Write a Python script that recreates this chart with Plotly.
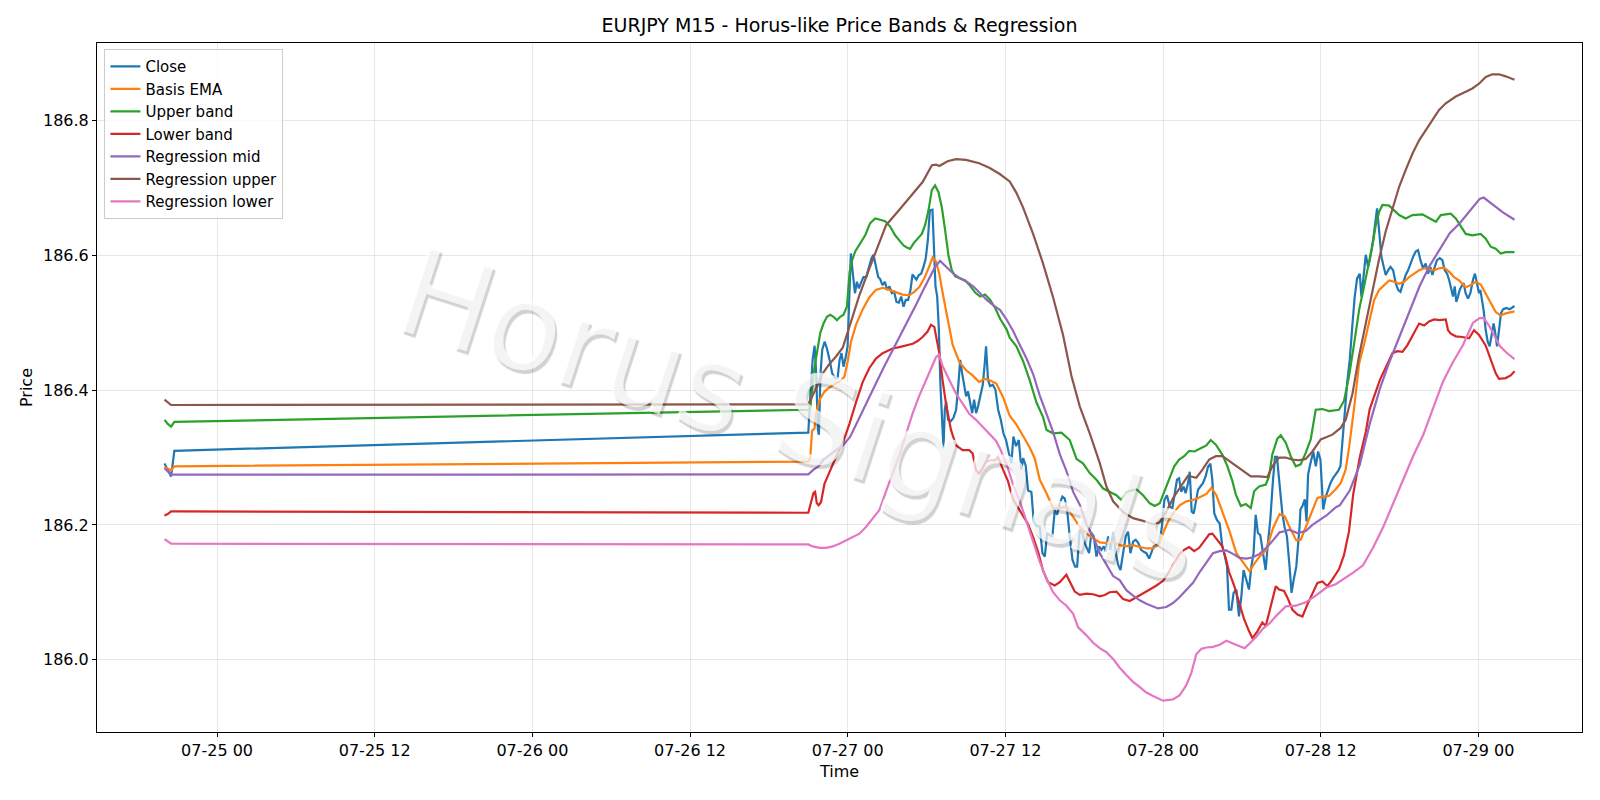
import pandas as pd
import plotly.graph_objects as go

BASE = pd.Timestamp("2026-07-25 00:00")   # x values below are hours since BASE

close_h = [-4.0, -3.75, -3.5, -3.25,
    45.00, 45.20, 45.33, 45.48, 45.60, 45.73, 45.81, 45.93, 46.06, 46.24,
    46.42, 46.62, 46.82, 47.02, 47.23, 47.38, 47.53, 47.68, 47.84, 47.99,
    48.11, 48.24, 48.39, 48.55, 48.70, 48.85, 49.00, 49.20, 49.41, 49.61,
    49.81, 49.96, 50.14, 50.32, 50.47, 50.65, 50.83, 51.00, 51.18, 51.36,
    51.54, 51.71, 51.89, 52.07, 52.25, 52.42, 52.60, 52.78, 52.93, 53.08,
    53.23, 53.41, 53.59, 53.77, 53.94, 54.10, 54.25, 54.45, 54.55, 54.68,
    54.81, 54.93, 55.06, 55.19, 55.29, 55.39, 55.49, 55.64, 55.85, 56.05,
    56.25, 56.43, 56.56, 56.71, 56.86, 57.01, 57.16, 57.32, 57.47, 57.62,
    57.77, 57.92, 58.10, 58.28, 58.43, 58.53, 58.68, 58.84, 59.04, 59.24,
    59.45, 59.65, 59.85, 60.05, 60.26, 60.46, 60.61, 60.81, 61.02,
    61.22, 61.35, 61.55, 61.73, 61.98, 62.16, 62.36,
    62.62, 62.82, 63.00, 63.18, 63.38, 63.58, 63.76, 63.94, 64.14, 64.34,
    64.52, 64.70, 64.90, 65.11, 65.31, 65.46, 65.66, 65.87, 66.04, 66.22,
    66.37, 66.55, 66.73, 66.93, 67.13, 67.31, 67.49, 67.64, 67.82, 67.99,
    68.20, 68.40, 68.58, 68.76, 68.96, 69.16, 69.34, 69.52, 69.72, 69.92,
    70.12, 70.33, 70.53, 70.73, 70.94, 71.11, 71.29, 71.49, 71.70, 71.90,
    72.10, 72.30, 72.51, 72.71, 72.89, 73.06, 73.22, 73.39, 73.57, 73.72,
    73.90, 74.03, 74.18, 74.33, 74.48, 74.66, 74.84, 75.04, 75.24, 75.42,
    75.60, 75.75, 75.90, 76.11, 76.31, 76.51, 76.71, 76.87, 77.02, 77.20,
    77.37, 77.58, 77.78, 77.96, 78.13, 78.34, 78.54, 78.72, 78.89, 79.05,
    79.22, 79.40, 79.60, 79.81, 79.98, 80.16, 80.37, 80.52, 80.67, 80.87,
    81.08, 81.25, 81.43, 81.63, 81.78, 81.94, 82.14, 82.39,
    82.46, 82.61, 82.79, 82.92, 83.04,
    83.17, 83.43, 83.63, 83.80, 83.98, 84.19, 84.39, 84.57, 84.74, 84.95,
    85.15, 85.33, 85.50, 85.66, 85.83, 86.01, 86.21, 86.42, 86.59, 86.77,
    86.97, 87.10, 87.28, 87.43, 87.61, 87.73, 87.99, 88.19, 88.29, 88.44,
    88.62, 88.80, 88.95, 89.13, 89.31, 89.51, 89.71, 89.89, 90.07, 90.27,
    90.47, 90.65, 90.83, 91.03, 91.23, 91.41, 91.59, 91.79, 91.99, 92.17,
    92.35, 92.50, 92.68, 92.85, 93.06, 93.26, 93.44, 93.62, 93.77, 93.95,
    94.07, 94.20, 94.32, 94.45, 94.58, 94.71, 94.88, 95.03, 95.21, 95.39,
    95.59, 95.74, 95.90, 96.05, 96.15, 96.30, 96.40, 96.56, 96.71, 96.86,
    97.01, 97.16, 97.27, 97.42, 97.57, 97.72, 97.87, 98.13, 98.38, 98.63,
    98.75]
close_v = [186.291, 186.281, 186.272, 186.310,
    186.337, 186.406, 186.445, 186.466, 186.425, 186.341, 186.334, 186.425, 186.460, 186.472,
    186.462, 186.445, 186.425, 186.418, 186.418, 186.445, 186.455, 186.435, 186.448, 186.465,
    186.524, 186.603, 186.573, 186.544, 186.561, 186.551, 186.559, 186.568, 186.568, 186.581,
    186.596, 186.601, 186.583, 186.568, 186.565, 186.556, 186.561, 186.549, 186.554, 186.544,
    186.546, 186.531, 186.530, 186.539, 186.524, 186.534, 186.534, 186.549, 186.572, 186.568,
    186.564, 186.571, 186.573, 186.583, 186.596, 186.623, 186.667, 186.668, 186.603, 186.554,
    186.539, 186.494, 186.406, 186.356, 186.314, 186.371, 186.383, 186.356, 186.354, 186.359,
    186.371, 186.410, 186.445, 186.425, 186.406, 186.391, 186.398, 186.381, 186.366, 186.386,
    186.366, 186.376, 186.391, 186.408, 186.440, 186.465, 186.415, 186.406, 186.408, 186.401,
    186.371, 186.356, 186.336, 186.326, 186.307, 186.292, 186.331, 186.317, 186.326,
    186.282, 186.299, 186.288, 186.251, 186.249, 186.204, 186.199,
    186.197, 186.158, 186.153, 186.188, 186.185, 186.183, 186.222, 186.215, 186.232, 186.242,
    186.239, 186.222, 186.183, 186.148, 186.138, 186.138, 186.193, 186.188, 186.173, 186.163,
    186.158, 186.188, 186.183, 186.153, 186.168, 186.163, 186.168, 186.160, 186.183, 186.163,
    186.190, 186.158, 186.141, 186.133, 186.158, 186.183, 186.190, 186.158, 186.175, 186.178,
    186.173, 186.163, 186.160, 186.158, 186.150, 186.158, 186.168, 186.170, 186.173, 186.195,
    186.237, 186.244, 186.227, 186.225, 186.247, 186.267, 186.269, 186.249, 186.257, 186.247,
    186.262, 186.279, 186.220, 186.217, 186.232, 186.252, 186.257, 186.262, 186.272, 186.286,
    186.291, 186.267, 186.217, 186.207, 186.202, 186.168, 186.153, 186.138, 186.074, 186.074,
    186.099, 186.104, 186.064, 186.094, 186.133, 186.118, 186.104, 186.138, 186.158, 186.215,
    186.188, 186.185, 186.158, 186.133, 186.173, 186.207, 186.267, 186.301, 186.301, 186.257,
    186.217, 186.197, 186.183, 186.138, 186.099, 186.118, 186.138, 186.197,
    186.223, 186.228, 186.238, 186.205, 186.275,
    186.287, 186.309, 186.287, 186.309, 186.297, 186.223, 186.242, 186.252, 186.262, 186.270,
    186.275, 186.280, 186.287, 186.321, 186.366, 186.410, 186.445, 186.499, 186.539, 186.566,
    186.573, 186.539, 186.578, 186.601, 186.583, 186.593, 186.623, 186.657, 186.670, 186.638,
    186.598, 186.583, 186.571, 186.578, 186.583, 186.578, 186.559, 186.549, 186.546, 186.559,
    186.571, 186.578, 186.588, 186.598, 186.606, 186.608, 186.593, 186.581, 186.588, 186.573,
    186.583, 186.571, 186.583, 186.593, 186.596, 186.593, 186.578, 186.573, 186.564, 186.551,
    186.539, 186.554, 186.531, 186.539, 186.549, 186.554, 186.559, 186.544, 186.536, 186.544,
    186.564, 186.573, 186.559, 186.544, 186.549, 186.534, 186.519, 186.489, 186.472, 186.465,
    186.480, 186.499, 186.487, 186.465, 186.489, 186.514, 186.520, 186.522, 186.520, 186.524,
    186.525]

ema_h = [-4.0, -3.75, -3.5, -3.25,
    45.0, 45.15, 45.29, 45.47, 45.59, 45.85, 46.23, 46.61, 46.99, 47.37, 47.75, 48.0, 48.25,
    48.63, 49.14, 49.65, 50.15, 50.66, 51.17, 51.68, 52.18, 52.69, 53.07, 53.45, 53.83, 54.21,
    54.46, 54.72, 54.97, 55.22, 55.6, 55.98, 56.49, 57.0, 57.5, 58.01, 58.39, 58.77, 59.31,
    59.82, 60.33, 60.84, 61.35, 61.85, 62.23, 62.62, 63.13, 63.63, 64.14, 64.65, 65.16, 65.66,
    66.17, 66.68, 67.18, 67.69, 68.2, 68.7, 69.21, 69.72, 70.23, 70.73, 71.24, 71.62, 72.0,
    72.38, 72.76, 73.27, 73.77, 74.28, 74.79, 75.3, 75.68, 76.06, 76.56, 77.07, 77.58, 78.08,
    78.59, 78.97, 79.35, 79.86, 80.37, 80.87, 81.25, 81.63, 82.14, 82.48, 82.86, 83.24, 83.75,
    84.13, 84.63, 85.14, 85.52, 85.9, 86.16, 86.55, 86.93, 87.31, 87.69, 88.07, 88.45, 88.83,
    89.21, 89.59, 89.97, 90.35, 90.73, 91.11, 91.49, 91.87, 92.25, 92.63, 93.01, 93.39, 93.77,
    94.15, 94.53, 95.04, 95.42, 95.8, 96.18, 96.56, 96.94, 97.32, 97.7, 98.08, 98.75]
ema_v = [186.286, 186.283, 186.281, 186.287,
    186.294, 186.300, 186.340, 186.343, 186.365, 186.385, 186.398, 186.404, 186.408, 186.413,
    186.420, 186.443, 186.472, 186.497, 186.520, 186.538, 186.549, 186.552, 186.549, 186.545,
    186.542, 186.541, 186.546, 186.553, 186.566, 186.584, 186.597, 186.591, 186.573, 186.545,
    186.505, 186.468, 186.442, 186.430, 186.422, 186.412, 186.417, 186.415, 186.410, 186.390,
    186.362, 186.349, 186.332, 186.315, 186.299, 186.267, 186.247, 186.225, 186.225, 186.227,
    186.212, 186.197, 186.187, 186.180, 186.174, 186.173, 186.175, 186.170, 186.168, 186.170,
    186.168, 186.165, 186.165, 186.170, 186.188, 186.205, 186.217, 186.229, 186.235, 186.237,
    186.241, 186.246, 186.255, 186.244, 186.217, 186.190, 186.158, 186.144, 186.131, 186.143,
    186.153, 186.163, 186.195, 186.216, 186.213, 186.197, 186.177, 186.178, 186.196, 186.213,
    186.240, 186.242, 186.243, 186.253, 186.262, 186.282, 186.315, 186.375, 186.440, 186.469,
    186.504, 186.534, 186.549, 186.556, 186.563, 186.561, 186.558, 186.561, 186.568, 186.573,
    186.578, 186.581, 186.579, 186.578, 186.581, 186.582, 186.576, 186.568, 186.563, 186.553,
    186.556, 186.561, 186.557, 186.544, 186.529, 186.516, 186.511, 186.514, 186.517]

upper_h = [-4.0, -3.75, -3.5, -3.25,
    45.0, 45.15, 45.40, 45.66, 45.91, 46.16, 46.42, 46.67, 46.92, 47.18, 47.43, 47.68, 47.94,
    48.14, 48.32, 48.57, 48.95, 49.33, 49.71, 50.09, 50.47, 50.85, 51.23, 51.61, 51.99, 52.25,
    52.50, 52.75, 53.01, 53.26, 53.64, 53.89, 54.15, 54.40, 54.65, 54.91, 55.16, 55.41, 55.67,
    55.92, 56.18, 56.56, 56.94, 57.32, 57.70, 58.08, 58.46, 58.84, 59.22, 59.60, 60.10, 60.33,
    60.84, 61.35, 61.85, 62.36, 62.87, 63.13, 63.63, 64.27, 64.90, 65.41, 65.92, 66.42, 66.93,
    67.44, 67.94, 68.45, 68.83, 69.21, 69.97, 70.48, 70.99, 71.37, 71.75, 72.13, 72.47, 72.85,
    73.23, 73.61, 73.99, 74.41, 74.79, 75.30, 75.63, 76.02, 76.52, 76.90, 77.28, 77.54, 77.92,
    78.30, 78.68, 78.93, 79.31, 79.82, 80.07, 80.32, 80.70, 80.96, 81.34, 81.72, 82.10, 82.48,
    82.86, 83.24, 83.62, 84.13, 84.63, 85.39, 85.77, 86.15, 86.55, 86.93, 87.31, 87.69, 87.94,
    88.19, 88.45, 88.70, 89.21, 89.59, 89.97, 90.47, 90.98, 91.74, 92.25, 92.76, 93.14, 93.52,
    93.90, 94.28, 94.66, 95.04, 95.54, 96.18, 96.56, 96.94, 97.32, 97.70, 98.08, 98.75]
upper_v = [186.356, 186.350, 186.346, 186.353,
    186.371, 186.373, 186.425, 186.455, 186.485, 186.499, 186.509, 186.512, 186.509, 186.504,
    186.509, 186.512, 186.524, 186.575, 186.592, 186.606, 186.618, 186.630, 186.648, 186.655,
    186.653, 186.651, 186.643, 186.630, 186.621, 186.615, 186.612, 186.610, 186.618, 186.623,
    186.632, 186.645, 186.667, 186.697, 186.704, 186.694, 186.672, 186.638, 186.600, 186.578,
    186.569, 186.566, 186.563, 186.555, 186.545, 186.539, 186.542, 186.534, 186.522, 186.506,
    186.490, 186.478, 186.465, 186.443, 186.415, 186.382, 186.360, 186.341, 186.336, 186.337,
    186.326, 186.298, 186.291, 186.277, 186.267, 186.254, 186.249, 186.244, 186.237, 186.249,
    186.253, 186.244, 186.232, 186.228, 186.232, 186.252, 186.267, 186.287, 186.297, 186.302,
    186.310, 186.309, 186.313, 186.318, 186.326, 186.319, 186.304, 186.287, 186.265, 186.245,
    186.228, 186.231, 186.225, 186.250, 186.257, 186.260, 186.272, 186.305, 186.328, 186.333,
    186.322, 186.302, 186.287, 186.290, 186.307, 186.327, 186.371, 186.372, 186.369, 186.371,
    186.384, 186.420, 186.470, 186.520, 186.555, 186.590, 186.615, 186.645, 186.665, 186.675,
    186.674, 186.667, 186.660, 186.655, 186.660, 186.661, 186.656, 186.650, 186.660, 186.661,
    186.662, 186.655, 186.643, 186.632, 186.630, 186.632, 186.625, 186.613, 186.610, 186.603,
    186.605, 186.605]

lower_h = [-4.0, -3.75, -3.5, -3.25,
    45.0, 45.21, 45.39, 45.52, 45.65, 45.79, 45.97, 46.23, 46.61, 47.11, 47.62, 48.13, 48.63,
    49.14, 49.65, 50.15, 50.66, 51.04, 51.42, 51.93, 52.44, 52.95, 53.32, 53.70, 54.08, 54.34,
    54.59, 54.77, 54.97, 55.22, 55.48, 55.86, 56.24, 56.75, 57.25, 57.51, 57.76, 58.01, 58.27,
    58.52, 58.90, 59.19, 59.44, 59.82, 60.20, 60.58, 60.96, 61.35, 61.73, 62.11, 62.49, 62.87,
    63.25, 63.76, 64.14, 64.64, 64.90, 65.28, 65.66, 66.17, 66.68, 67.18, 67.56, 67.94, 68.45,
    68.96, 69.47, 69.97, 70.48, 70.99, 71.50, 72.01, 72.47, 72.85, 73.23, 73.61, 73.99, 74.37,
    74.75, 75.13, 75.51, 75.76, 76.14, 76.52, 76.78, 77.03, 77.41, 77.79, 78.17, 78.55, 78.80,
    79.18, 79.56, 79.82, 80.20, 80.58, 80.83, 81.21, 81.47, 81.85, 82.23, 82.61, 82.99, 83.37,
    83.75, 84.13, 84.51, 84.89, 85.39, 85.77, 86.15, 86.47, 86.97, 87.43, 87.73, 88.50, 88.95,
    89.46, 89.84, 90.22, 90.60, 90.98, 91.49, 91.87, 92.25, 92.63, 93.01, 93.52, 93.69, 93.90,
    94.28, 94.78, 95.29, 95.67, 96.05, 96.56, 96.94, 97.32, 97.57, 98.08, 98.46, 98.75]
lower_v = [186.214, 186.216, 186.220, 186.220,
    186.218, 186.232, 186.247, 186.249, 186.232, 186.229, 186.234, 186.261, 186.279, 186.301,
    186.321, 186.350, 186.382, 186.412, 186.433, 186.447, 186.455, 186.459, 186.462, 186.464,
    186.467, 186.469, 186.473, 186.479, 186.487, 186.497, 186.494, 186.474, 186.455, 186.415,
    186.380, 186.341, 186.318, 186.311, 186.311, 186.306, 186.281, 186.276, 186.284, 186.294,
    186.296, 186.296, 186.301, 186.282, 186.265, 186.238, 186.226, 186.215, 186.201, 186.182,
    186.160, 186.132, 186.115, 186.110, 186.115, 186.126, 186.115, 186.101, 186.096, 186.098,
    186.097, 186.094, 186.096, 186.100, 186.101, 186.090, 186.087, 186.093, 186.098, 186.104,
    186.110, 186.117, 186.131, 186.144, 186.156, 186.163, 186.167, 186.161, 186.166, 186.176,
    186.186, 186.187, 186.177, 186.168, 186.150, 186.130, 186.110, 186.085, 186.060, 186.042,
    186.032, 186.042, 186.055, 186.050, 186.079, 186.109, 186.104, 186.102, 186.092, 186.074,
    186.067, 186.064, 186.082, 186.099, 186.114, 186.116, 186.109, 186.119, 186.134, 186.155,
    186.190, 186.245, 186.300, 186.338, 186.372, 186.415, 186.435, 186.455, 186.458, 186.457,
    186.467, 186.481, 186.499, 186.496, 186.502, 186.505, 186.504, 186.505, 186.489, 186.484,
    186.480, 186.479, 186.477, 186.489, 186.482, 186.466, 186.444, 186.425, 186.417, 186.418,
    186.422, 186.428]

regmid_h = [-4.0, -3.75, -3.5, -3.25,
    45.0, 45.40, 45.78, 46.16, 46.67, 47.18, 47.68, 48.19, 48.70, 49.20, 49.71, 50.22, 50.72,
    51.23, 51.74, 52.24, 52.75, 53.26, 53.76, 54.27, 54.65, 55.03, 55.54, 56.05, 56.55, 57.06,
    57.57, 58.08, 58.58, 59.09, 59.60, 60.09, 60.59, 61.10, 61.61, 62.11, 62.62, 63.13, 63.63,
    64.14, 64.65, 65.16, 65.66, 66.17, 66.68, 67.18, 67.69, 68.20, 68.70, 69.21, 69.72, 70.23,
    70.73, 71.24, 71.62, 72.25, 72.76, 73.27, 73.77, 74.28, 74.79, 75.30, 75.80, 76.31, 76.82,
    77.32, 77.83, 78.34, 78.84, 79.35, 79.86, 80.37, 80.87, 81.34, 81.59, 82.23, 82.86, 83.37,
    83.87, 84.44, 85.14, 85.45, 86.21, 86.97, 87.73, 88.50, 89.25, 90.02, 90.78, 91.54, 92.30,
    93.06, 93.82, 94.58, 95.34, 96.10, 96.40, 97.11, 97.87, 98.75]
regmid_v = [186.284, 186.279, 186.2745, 186.2745,
    186.275, 186.282, 186.287, 186.297, 186.304, 186.312, 186.319, 186.331, 186.351, 186.371,
    186.391, 186.413, 186.433, 186.452, 186.472, 186.492, 186.509, 186.529, 186.549, 186.568,
    186.583, 186.592, 186.583, 186.573, 186.566, 186.561, 186.554, 186.544, 186.534, 186.526,
    186.519, 186.505, 186.488, 186.467, 186.447, 186.424, 186.392, 186.365, 186.338, 186.305,
    186.280, 186.249, 186.230, 186.201, 186.183, 186.158, 186.140, 186.124, 186.118, 186.103,
    186.095, 186.088, 186.083, 186.079, 186.076, 186.078, 186.084, 186.093, 186.104, 186.114,
    186.130, 186.145, 186.158, 186.161, 186.162, 186.157, 186.151, 186.150, 186.152, 186.157,
    186.166, 186.177, 186.189, 186.191, 186.193, 186.188, 186.191, 186.200, 186.207, 186.214,
    186.226, 186.229, 186.251, 186.289, 186.350, 186.402, 186.443, 186.481, 186.516, 186.555,
    186.585, 186.609, 186.633, 186.648, 186.666, 186.684, 186.686, 186.676, 186.664, 186.653]

regup_h = [-4.0, -3.75, -3.5, -3.25,
    45.0, 45.59, 46.10, 46.61, 47.11, 47.62, 48.13, 48.89, 49.65, 50.28, 50.92, 51.93, 52.95,
    53.70, 54.41, 54.72, 54.97, 55.60, 56.24, 57.00, 58.01, 58.81, 59.57, 60.33, 60.84, 61.35,
    62.11, 62.87, 63.63, 64.39, 65.03, 65.66, 66.42, 67.18, 67.69, 68.20, 68.96, 69.72, 70.48,
    71.24, 71.75, 72.26, 72.77, 73.27, 73.90, 74.53, 75.00, 75.51, 76.02, 76.52, 77.03, 77.54,
    78.04, 78.68, 79.31, 79.94, 80.32, 80.83, 81.34, 81.85, 82.35, 82.86, 83.37, 84.00, 84.89,
    85.52, 85.90, 86.42, 86.93, 87.43, 87.94, 88.45, 88.95, 89.46, 89.97, 90.47, 90.98, 91.49,
    91.99, 92.50, 93.01, 93.52, 94.28, 95.04, 95.54, 96.05, 96.56, 97.06, 97.57, 98.08, 98.75]
regup_v = [186.386, 186.382, 186.378, 186.378,
    186.379, 186.403, 186.425, 186.439, 186.450, 186.463, 186.494, 186.541, 186.581, 186.613,
    186.645, 186.668, 186.691, 186.709, 186.734, 186.735, 186.733, 186.740, 186.743, 186.742,
    186.737, 186.730, 186.721, 186.710, 186.693, 186.671, 186.632, 186.588, 186.538, 186.482,
    186.421, 186.376, 186.336, 186.292, 186.257, 186.235, 186.219, 186.210, 186.206, 186.201,
    186.204, 186.220, 186.240, 186.255, 186.273, 186.270, 186.282, 186.297, 186.302, 186.302,
    186.295, 186.287, 186.280, 186.272, 186.272, 186.271, 186.287, 186.300, 186.300, 186.297,
    186.296, 186.298, 186.309, 186.327, 186.334, 186.344, 186.356, 186.395, 186.452, 186.500,
    186.550, 186.595, 186.636, 186.670, 186.702, 186.727, 186.751, 186.771, 186.786, 186.801,
    186.816, 186.826, 186.836, 186.843, 186.848, 186.855, 186.865, 186.869, 186.869, 186.866,
    186.861]

reglo_h = [-4.0, -3.75, -3.5, -3.25,
    45.0, 45.34, 45.85, 46.35, 46.86, 47.37, 47.87, 48.38, 48.89, 49.39, 49.90, 50.41, 50.92,
    51.42, 51.93, 52.44, 52.95, 53.45, 53.96, 54.34, 54.72, 54.95, 55.22, 55.73, 56.24, 56.75,
    57.25, 57.76, 58.27, 58.77, 59.28, 59.58, 60.09, 60.59, 61.10, 61.61, 62.11, 62.62, 63.13,
    63.63, 64.14, 64.65, 65.16, 65.54, 66.17, 66.68, 67.18, 67.69, 68.20, 68.70, 69.21, 69.72,
    70.23, 70.73, 71.24, 72.00, 72.76, 73.27, 73.77, 74.15, 74.53, 74.92, 75.30, 75.80, 76.31,
    76.82, 77.32, 77.83, 78.21, 78.59, 79.10, 79.61, 80.11, 80.62, 81.34, 82.10, 82.86, 83.62,
    84.44, 85.14, 85.45, 86.47, 87.22, 87.98, 88.74, 89.51, 90.27, 91.03, 91.79, 92.55, 93.31,
    94.07, 94.83, 95.59, 96.10, 96.40, 96.81, 97.19, 97.62, 98.13, 98.75]
reglo_v = [186.179, 186.176, 186.172, 186.172,
    186.171, 186.168, 186.166, 186.166, 186.168, 186.172, 186.177, 186.181, 186.187, 186.197,
    186.209, 186.222, 186.250, 186.276, 186.303, 186.335, 186.366, 186.392, 186.414, 186.432,
    186.449, 186.453, 186.436, 186.415, 186.395, 186.380, 186.365, 186.356, 186.346, 186.336,
    186.325, 186.314, 186.290, 186.260, 186.235, 186.205, 186.176, 186.145, 186.120, 186.100,
    186.088, 186.080, 186.068, 186.048, 186.036, 186.025, 186.017, 186.011, 186.001, 185.988,
    185.977, 185.967, 185.959, 185.951, 185.946, 185.939, 185.941, 185.947, 185.962, 185.980,
    186.008, 186.016, 186.018, 186.019, 186.022, 186.028, 186.024, 186.020, 186.017, 186.024,
    186.034, 186.046, 186.054, 186.065, 186.079, 186.080, 186.085, 186.095, 186.107, 186.112,
    186.116, 186.129, 186.140, 186.166, 186.196, 186.232, 186.267, 186.302, 186.333, 186.372,
    186.413, 186.442, 186.467, 186.500, 186.507, 186.507, 186.496, 186.482, 186.466, 186.456,
    186.446]

series = [
    ("Close", close_h, close_v, "#1f77b4"),
    ("Basis EMA", ema_h, ema_v, "#ff7f0e"),
    ("Upper band", upper_h, upper_v, "#2ca02c"),
    ("Lower band", lower_h, lower_v, "#d62728"),
    ("Regression mid", regmid_h, regmid_v, "#9467bd"),
    ("Regression upper", regup_h, regup_v, "#8c564b"),
    ("Regression lower", reglo_h, reglo_v, "#e377c2"),
]


def to_time(hours):
    return [BASE + pd.Timedelta(hours=h) for h in hours]


FONT = "DejaVu Sans, Verdana, sans-serif"
fig = go.Figure()
for name, hs, vs, col in series:
    fig.add_trace(go.Scatter(x=to_time(hs), y=vs, mode="lines", name=name,
                             line=dict(color=col, width=2.2)))

all_h = [h for s in series for h in s[1]]
all_v = [v for s in series for v in s[2]]
hpad = 0.05 * (max(all_h) - min(all_h))
vpad = 0.05 * (max(all_v) - min(all_v))
xr = [BASE + pd.Timedelta(hours=min(all_h) - hpad), BASE + pd.Timedelta(hours=max(all_h) + hpad)]
yr = [min(all_v) - vpad, max(all_v) + vpad]

axis_common = dict(showline=True, linecolor="black", linewidth=1, mirror=True,
                   ticks="outside", ticklen=4, tickwidth=1, tickcolor="black",
                   showgrid=True, gridcolor="rgba(176,176,176,0.3)", gridwidth=1,
                   zeroline=False, tickfont=dict(size=16, color="black", family=FONT),
                   title_font=dict(size=16, color="black", family=FONT))

fig.update_layout(
    width=1600, height=800,
    margin=dict(l=97, r=18, t=43, b=68),
    paper_bgcolor="white", plot_bgcolor="white",
    font=dict(family=FONT, color="black"),
    title=dict(text="EURJPY M15 - Horus-like Price Bands & Regression",
               x=0.5, xref="paper", xanchor="center",
               y=1 - 25.5 / 800, yref="container", yanchor="middle",
               font=dict(size=19, color="black", family=FONT)),
    xaxis=dict(type="date", range=xr, tickformat="%m-%d %H",
               tick0=BASE, dtick=12 * 3600 * 1000,
               title=dict(text="Time", standoff=6), **axis_common),
    yaxis=dict(range=yr, tickformat=".1f", dtick=0.2, tick0=186.0,
               title=dict(text="Price", standoff=6), **axis_common),
    legend=dict(x=0.005, y=0.991, xanchor="left", yanchor="top",
                bgcolor="rgba(255,255,255,0.8)", bordercolor="#cccccc", borderwidth=1,
                font=dict(size=15, color="black", family=FONT)),
    showlegend=True,
)

fig.add_annotation(text="Horus Signals", xref="paper", yref="paper",
                   x=0.474, y=0.458, showarrow=False, textangle=18,
                   font=dict(size=122, family=FONT, color="rgba(255,255,255,0.75)",
                             shadow="3px 3px 1px rgba(0,0,0,0.24)"))

fig.write_html("out.html")
